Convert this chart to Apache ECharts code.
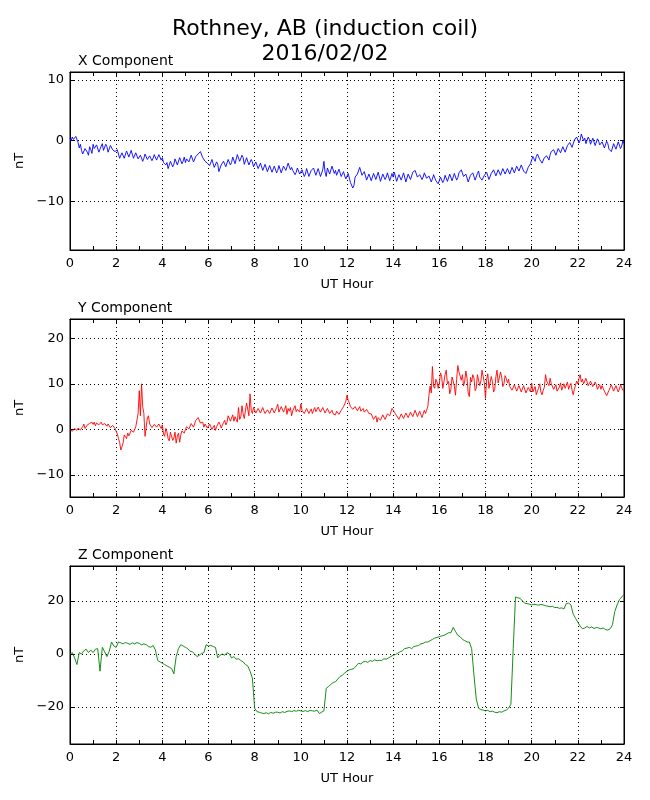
<!DOCTYPE html>
<html>
<head>
<meta charset="utf-8">
<script src="https://cdn.jsdelivr.net/npm/echarts@6/dist/echarts.min.js"></script>
<style>
  html, body { margin: 0; padding: 0; background: #fff; }
  #main { width: 650px; height: 800px; }
</style>
</head>
<body>
<div id="main"></div>
<script>
var xStep = 0.05, yStep = 0.05, zStep = 0.1;

var xComp = [
  0.4, 0.0, 0.6, 0.2, 0.1, 0.7, 0.5, -0.3, -1.2, -0.6, -1.6, -2.2, -2.0, -1.3, -1.1, -1.9, -2.4, -1.0, -1.5, -2.1,
  -0.6, -1.3, -1.6, -0.7, -0.9, -1.9, -1.8, -0.9, -0.5, -1.6, -1.4, -0.6, -1.0, -1.9, -1.7, -0.8, -0.6, -1.5, -1.2, -1.8,
  -2.1, -1.5, -1.8, -2.9, -2.8, -2.0, -2.3, -2.9, -2.6, -1.7, -1.9, -2.7, -2.5, -1.6, -1.8, -2.9, -2.7, -2.0, -2.3, -3.0,
  -3.2, -2.4, -2.6, -3.4, -2.9, -2.2, -2.4, -3.1, -3.3, -2.5, -2.7, -3.3, -2.9, -2.3, -2.5, -3.2, -3.1, -2.3, -2.6, -3.2,
  -2.8, -3.6, -3.3, -4.0, -3.6, -4.6, -4.3, -3.4, -3.5, -4.3, -3.9, -3.0, -3.1, -4.0, -3.7, -2.8, -2.9, -3.8, -3.4, -2.7,
  -3.6, -3.0, -2.8, -3.5, -3.2, -2.4, -2.6, -3.5, -3.4, -2.6, -2.9, -2.2, -2.4, -1.8, -1.9, -2.8, -2.7, -3.4, -3.1, -3.7,
  -3.5, -4.1, -3.8, -3.1, -3.4, -4.4, -4.2, -3.5, -3.9, -5.1, -4.9, -4.0, -4.3, -3.4, -3.6, -4.3, -4.0, -3.1, -3.3, -4.0,
  -3.6, -2.7, -2.9, -3.8, -3.5, -2.3, -2.5, -3.4, -3.2, -2.4, -2.8, -3.9, -3.6, -2.8, -3.0, -4.0, -3.9, -3.1, -3.5, -4.3,
  -4.1, -3.5, -3.8, -4.6, -4.4, -3.7, -4.0, -4.9, -4.6, -3.9, -4.2, -5.1, -4.8, -4.1, -4.4, -5.2, -4.9, -4.2, -4.5, -5.3,
  -4.9, -4.1, -4.3, -5.3, -5.1, -4.2, -4.0, -4.9, -4.6, -3.7, -3.9, -4.8, -4.4, -4.9, -4.7, -5.6, -5.2, -4.5, -4.8, -5.5,
  -5.6, -4.8, -5.0, -5.9, -5.5, -4.6, -4.8, -5.9, -5.8, -4.9, -5.1, -4.5, -4.7, -5.7, -5.4, -4.6, -4.9, -5.9, -5.7, -4.8,
  -3.4, -5.2, -5.9, -4.5, -4.6, -5.5, -5.2, -4.2, -4.4, -5.4, -4.9, -5.7, -5.4, -4.7, -5.0, -5.9, -5.6, -5.1, -5.8, -6.3,
  -6.1, -5.4, -5.6, -6.9, -6.7, -7.8, -7.4, -6.0, -6.3, -5.5, -5.8, -4.4, -4.6, -5.7, -5.9, -5.1, -5.4, -6.5, -6.2, -5.5,
  -5.8, -6.6, -6.3, -5.4, -5.6, -6.4, -6.1, -5.2, -5.5, -6.7, -6.4, -5.5, -5.7, -6.4, -6.0, -5.3, -5.6, -6.6, -6.3, -5.4,
  -6.0, -5.2, -5.5, -6.7, -6.4, -5.6, -5.8, -6.5, -6.2, -5.3, -5.6, -6.8, -6.5, -5.5, -5.7, -6.4, -6.1, -5.2, -5.4, -4.9,
  -5.1, -6.0, -6.3, -5.6, -5.8, -6.4, -6.0, -5.3, -5.4, -6.2, -6.5, -5.8, -6.0, -6.8, -6.3, -5.6, -5.7, -6.6, -6.6, -7.1,
  -6.9, -6.0, -6.2, -6.9, -6.5, -5.7, -5.9, -6.7, -6.4, -5.5, -5.8, -6.6, -6.3, -5.4, -5.7, -6.5, -6.1, -5.3, -5.5, -4.8,
  -5.0, -5.9, -6.2, -5.5, -5.8, -6.8, -6.6, -5.7, -6.0, -5.3, -5.6, -6.5, -6.3, -5.4, -5.0, -6.0, -5.9, -6.5, -6.2, -5.7,
  -6.0, -5.2, -5.4, -6.4, -6.3, -5.4, -5.7, -4.8, -5.1, -5.8, -5.6, -4.8, -5.0, -5.7, -5.4, -4.6, -4.8, -5.5, -5.3, -4.6,
  -4.9, -5.5, -5.2, -4.4, -4.6, -5.3, -5.0, -4.2, -4.4, -5.0, -4.7, -4.0, -4.3, -5.0, -4.9, -5.4, -5.1, -4.4, -4.6, -3.8,
  -3.2, -2.6, -3.0, -3.4, -2.6, -2.2, -2.4, -3.1, -2.9, -3.7, -3.5, -2.8, -3.1, -2.5, -2.7, -3.2, -2.3, -1.8, -2.0, -1.5,
  -1.7, -2.4, -2.2, -1.3, -1.4, -2.0, -1.8, -1.0, -1.2, -1.9, -1.6, -0.8, -1.0, -0.3, -0.5, -1.1, -0.8, 0.1, -0.2, 0.6,
  0.3, -0.4, 0.1, 1.1, 1.0, 0.0, 0.4, -0.5, -0.2, 0.6, 0.2, -0.6, -0.3, 0.4, 0.1, -0.8, -0.6, 0.3, -0.1, -0.7,
  -1.0, -0.2, -0.4, -1.2, -0.9, -0.1, -0.5, -1.4, -1.2, -1.8, -1.6, -0.5, -0.7, -1.4, -1.1, -0.2, -0.4, -1.3, -0.9, 0.0,
  -0.5
];

var yComp = [
  0.0, 0.4, -0.4, -0.6, 0.2, 0.5, -0.2, 0.3, 0.3, -0.1, 0.1, 0.6, 1.2, 0.2, 0.5, 1.0, 0.8, 1.3, 1.0, 1.6,
  1.1, 1.6, 0.8, 1.4, 1.8, 1.0, 1.2, 1.6, 1.0, 1.4, 1.3, 0.9, 0.7, 1.2, 0.9, 0.4, 0.5, 0.9, 0.6, 0.2,
  0.4, -1.0, -2.0, -2.8, -4.5, -3.8, -3.0, -1.2, -1.5, -2.0, -0.8, -1.4, -1.2, -0.2, 0.0, -0.6, -0.3, 0.6, 1.0, 3.5,
  8.5, 3.0, 10.0, 5.0, 3.5, -1.5, -1.5, 2.5, 3.0, 1.2, 1.0, 0.4, 0.6, 1.1, 0.9, 0.5, 0.4, 1.2, 0.7, 0.2,
  1.0, -1.0, -1.5, 0.2, -0.5, -2.0, -2.5, -0.6, -1.0, -2.4, -1.8, -0.6, -3.0, -1.5, -0.8, -2.8, -1.2, -0.3, -0.5, -0.8,
  0.0, 0.6, 0.8, 0.1, 0.4, 1.3, 1.2, 0.5, 0.9, 2.0, 1.6, 2.6, 2.4, 1.4, 1.0, 1.6, 0.5, 1.2, 1.1, 0.3,
  0.4, 1.2, 0.9, 0.0, 0.2, 0.9, -0.2, 0.6, 0.8, 1.6, 1.1, 0.3, 0.6, 1.5, 2.0, 1.0, 1.5, 3.0, 2.6, 1.8,
  2.5, 3.2, 1.8, 2.8, 2.2, 1.6, 4.8, 2.2, 2.8, 5.2, 3.4, 2.4, 2.7, 5.8, 6.2, 3.0, 7.8, 4.2, 3.5, 4.8,
  4.6, 3.6, 3.8, 4.6, 4.3, 3.6, 3.9, 4.8, 4.1, 3.5, 3.4, 4.3, 4.2, 3.5, 3.8, 4.7, 4.5, 3.6, 4.0, 4.8,
  5.5, 3.8, 4.2, 5.0, 4.8, 3.8, 4.4, 5.2, 3.3, 4.6, 4.0, 4.8, 3.0, 4.1, 4.5, 5.2, 3.9, 4.4, 4.6, 3.8,
  5.6, 4.2, 4.4, 3.5, 3.6, 4.6, 4.3, 3.5, 3.8, 4.5, 3.5, 4.2, 4.8, 3.9, 4.1, 4.9, 4.6, 3.8, 4.0, 4.8,
  4.5, 3.6, 3.8, 4.6, 4.2, 3.5, 3.6, 4.2, 3.4, 3.0, 3.2, 4.0, 3.9, 3.3, 3.5, 4.2, 4.4, 5.0, 5.6, 6.2,
  7.5, 6.4, 5.8, 5.0, 5.2, 4.4, 4.3, 5.0, 4.9, 4.1, 4.4, 5.0, 4.0, 3.6, 4.6, 3.8, 3.8, 4.4, 4.1, 3.5,
  3.9, 3.4, 3.2, 2.2, 2.4, 3.0, 1.6, 2.6, 2.8, 2.0, 2.3, 3.2, 3.0, 2.2, 2.6, 3.4, 3.8, 3.0, 3.2, 4.6,
  5.0, 3.8, 4.2, 3.0, 3.3, 2.2, 2.4, 3.4, 3.1, 2.4, 2.7, 3.6, 3.4, 2.6, 2.9, 3.8, 3.6, 2.8, 3.1, 4.2,
  4.0, 2.8, 3.2, 4.0, 3.7, 2.6, 2.8, 4.2, 3.5, 4.2, 5.0, 7.5, 9.5, 8.0, 13.8, 9.5, 9.0, 11.0, 10.4, 9.0,
  10.0, 12.4, 11.6, 9.0, 9.2, 12.0, 13.0, 10.0, 10.5, 7.8, 8.8, 11.5, 10.6, 9.5, 7.5, 11.0, 14.0, 12.6, 12.5, 10.8,
  12.0, 9.5, 10.6, 12.8, 11.2, 8.0, 7.2, 11.4, 10.4, 12.0, 11.3, 8.5, 9.0, 12.0, 12.4, 9.6, 10.6, 13.0, 12.8, 10.2,
  6.8, 11.0, 12.2, 9.0, 9.4, 11.6, 10.5, 8.2, 8.8, 11.5, 13.0, 10.2, 10.2, 12.6, 11.5, 9.4, 10.0, 11.8, 11.2, 10.2,
  11.0, 9.4, 9.6, 8.6, 8.8, 9.8, 9.4, 8.4, 8.7, 9.6, 9.2, 8.2, 8.5, 9.6, 9.4, 8.0, 8.3, 9.2, 9.0, 8.2,
  10.2, 8.2, 8.6, 9.4, 7.6, 8.4, 9.0, 10.0, 8.2, 7.6, 8.6, 9.2, 12.0, 10.6, 10.8, 9.6, 11.2, 10.0, 9.6, 8.8,
  9.0, 9.8, 8.4, 8.0, 9.3, 10.2, 8.6, 8.2, 10.0, 9.0, 9.4, 10.4, 8.8, 9.6, 10.1, 8.6, 7.6, 8.8, 9.2, 10.6,
  10.0, 11.2, 12.0, 10.4, 11.0, 10.0, 10.6, 11.2, 10.4, 9.6, 9.8, 10.6, 10.2, 9.4, 9.5, 10.4, 9.8, 8.8, 9.2, 9.8,
  8.8, 9.6, 9.2, 8.4, 8.0, 7.4, 7.5, 8.6, 8.4, 9.8, 9.6, 8.4, 8.6, 9.6, 9.2, 8.2, 8.8, 9.8, 9.4, 8.6,
  8.5
];

var zComp = [
  0.0, 0.5, -1.5, -4.0, 0.5, 0.0, 1.2, 1.8, 0.5, 1.5,
  0.5, 1.8, 2.0, -6.5, 2.5, 0.8, -1.0, 1.0, 4.5, 3.0,
  2.5, 4.5, 4.2, 3.8, 4.3, 4.0, 3.6, 4.2, 3.8, 4.3,
  4.0, 3.4, 3.8, 3.5, 2.8, 2.5, 3.2, 1.5, -2.5, -3.0,
  -3.5, -4.0, -4.5, -5.0, -5.5, -7.5, -1.0, 2.0, 3.5, 3.0,
  2.5, 2.0, 1.0, 0.8, 0.0, -1.0, -0.5, 0.2, 0.5, 3.5,
  3.0, 3.2, 2.8, 2.5, -1.5, -0.5, 0.0, -0.5, 0.5, 0.0,
  -1.5, -1.0, -2.0, -1.8, -2.5, -3.0, -4.0, -4.5, -6.5, -9.0,
  -20.5, -21.8, -22.0, -22.3, -22.5, -22.2, -22.6, -22.1, -22.4, -22.0,
  -22.0, -22.3, -21.8, -22.1, -21.7, -21.5, -21.8, -21.4, -21.6, -21.3,
  -21.5, -21.7, -21.4, -21.8, -21.3, -21.5, -21.6, -21.2, -22.5, -22.0,
  -21.5, -13.0, -12.3, -11.5, -10.8, -10.5, -9.5, -8.5, -8.0, -7.2,
  -6.5, -6.0, -5.8, -5.5, -4.5, -3.5, -3.8, -3.0, -2.8, -3.2,
  -2.5, -2.8, -2.2, -2.6, -2.4, -2.5, -1.8, -2.0, -1.5, -1.0,
  -0.5, -0.2, 0.3, 0.8, 1.2, 2.0, 2.2, 2.5, 2.0, 2.8,
  3.0, 3.2, 3.8, 4.0, 4.5, 4.5, 5.0, 5.5, 6.0, 6.2,
  6.5, 6.8, 7.0, 7.5, 8.0, 8.0, 10.0, 8.5, 7.0, 6.5,
  5.5, 5.0, 4.5, 4.5, 2.0, -8.0, -17.0, -20.5, -21.0, -21.2,
  -21.5, -21.3, -21.8, -21.6, -22.0, -22.2, -21.8, -22.0, -21.5, -21.2,
  -20.5, -19.0, 2.0, 21.5, 21.2, 21.0, 20.0, 19.2, 19.0, 18.8,
  18.5, 18.8, 18.6, 18.4, 18.7, 18.5, 18.2, 18.0, 17.8, 18.0,
  17.5, 17.6, 17.2, 17.4, 17.0, 19.0, 19.2, 18.5, 15.0, 13.5,
  12.0, 10.5, 9.5, 9.8, 10.4, 9.8, 10.2, 9.6, 10.0, 9.8,
  9.5, 9.8, 9.2, 9.0, 9.5, 11.0, 16.0, 18.5, 20.5, 21.5,
  22.5
];

var panelNames = ['X Component', 'Y Component', 'Z Component'];
var panelColors = ['#0000ff', '#ff0000', '#008000'];
var yTicks = [[-10, 0, 10], [-10, 0, 10, 20], [-20, 0, 20]];
var yRanges = [[-18, 11.3], [-14.8, 24.2], [-34, 33.2]];
var panelTops = [72, 319, 566];

var font = 'DejaVu Sans';
var myChart = echarts.init(document.getElementById('main'));

function toPairs(vals, step) {
  return vals.map(function (v, i) { return [+(i * step).toFixed(2), v]; });
}

function minus(v) {
  return String(v).replace('-', '\u2212');
}

var mainTitle = { fontFamily: font, fontSize: 22, fontWeight: 'normal', color: '#000' };

var option = {
  animation: false,
  backgroundColor: '#fff',
  title: [{
    text: 'Rothney, AB (induction coil)',
    left: 'center',
    top: 18,
    padding: 0,
    textStyle: mainTitle
  }, {
    text: '2016/02/02',
    left: 'center',
    top: 43,
    padding: 0,
    textStyle: mainTitle
  }],
  grid: [],
  xAxis: [],
  yAxis: [],
  series: []
};

var allData = [xComp, yComp, zComp];
var allSteps = [xStep, yStep, zStep];

for (var p = 0; p < 3; p++) {
  option.title.push({
    text: panelNames[p],
    left: 78,
    top: panelTops[p] - 18,
    padding: 0,
    textStyle: { fontFamily: font, fontSize: 14, fontWeight: 'normal', color: '#000' }
  });
  option.grid.push({
    left: 70, right: 26, top: panelTops[p], height: 178,
    show: true, borderColor: '#000', borderWidth: 1, backgroundColor: 'transparent'
  });
  var tickStyle = { show: true, inside: true, length: 4, lineStyle: { color: '#000', width: 1 } };
  // bottom x axis
  option.xAxis.push({
    type: 'value', gridIndex: p, position: 'bottom', min: 0, max: 24, interval: 2,
    name: 'UT Hour', nameLocation: 'middle', nameGap: 28,
    nameTextStyle: { fontFamily: font, fontSize: 13, color: '#000' },
    axisLine: { show: true, onZero: false, lineStyle: { color: '#000' } },
    axisTick: tickStyle,
    minorTick: { show: true, splitNumber: 2, length: 4, lineStyle: { color: '#000' } },
    axisLabel: { fontFamily: font, fontSize: 13, color: '#000', margin: 7 },
    splitLine: { show: true, lineStyle: { color: '#000', type: [1, 3], width: 1 } }
  });
  // top x axis (ticks only)
  option.xAxis.push({
    type: 'value', gridIndex: p, position: 'top', min: 0, max: 24, interval: 2,
    axisLine: { show: true, onZero: false, lineStyle: { color: '#000' } },
    axisTick: tickStyle,
    minorTick: { show: true, splitNumber: 2, length: 4, lineStyle: { color: '#000' } },
    axisLabel: { show: false },
    splitLine: { show: false }
  });
  // left y axis
  option.yAxis.push({
    type: 'value', gridIndex: p, position: 'left', min: yRanges[p][0], max: yRanges[p][1],
    name: 'nT', nameLocation: 'middle', nameGap: 42,
    nameTextStyle: { fontFamily: font, fontSize: 13, color: '#000' },
    axisLine: { show: true, onZero: false, lineStyle: { color: '#000' } },
    axisTick: { show: true, inside: true, length: 4, customValues: yTicks[p], lineStyle: { color: '#000' } },
    axisLabel: { fontFamily: font, fontSize: 13, color: '#000', margin: 6, customValues: yTicks[p], formatter: minus },
    splitLine: { show: true, lineStyle: { color: '#000', type: [1, 3], width: 1 } }
  });
  // right y axis (ticks only)
  option.yAxis.push({
    type: 'value', gridIndex: p, position: 'right', min: yRanges[p][0], max: yRanges[p][1],
    axisLine: { show: true, onZero: false, lineStyle: { color: '#000' } },
    axisTick: { show: true, inside: true, length: 4, customValues: yTicks[p], lineStyle: { color: '#000' } },
    axisLabel: { show: false, customValues: yTicks[p] },
    splitLine: { show: false }
  });
  option.series.push({
    type: 'line',
    xAxisIndex: p * 2,
    yAxisIndex: p * 2,
    data: toPairs(allData[p], allSteps[p]),
    showSymbol: false,
    symbol: 'none',
    lineStyle: { color: panelColors[p], width: 0.9 },
    z: 3
  });
}

myChart.setOption(option);
window.addEventListener('resize', function () {
  myChart.resize();
});
</script>
</body>
</html>
